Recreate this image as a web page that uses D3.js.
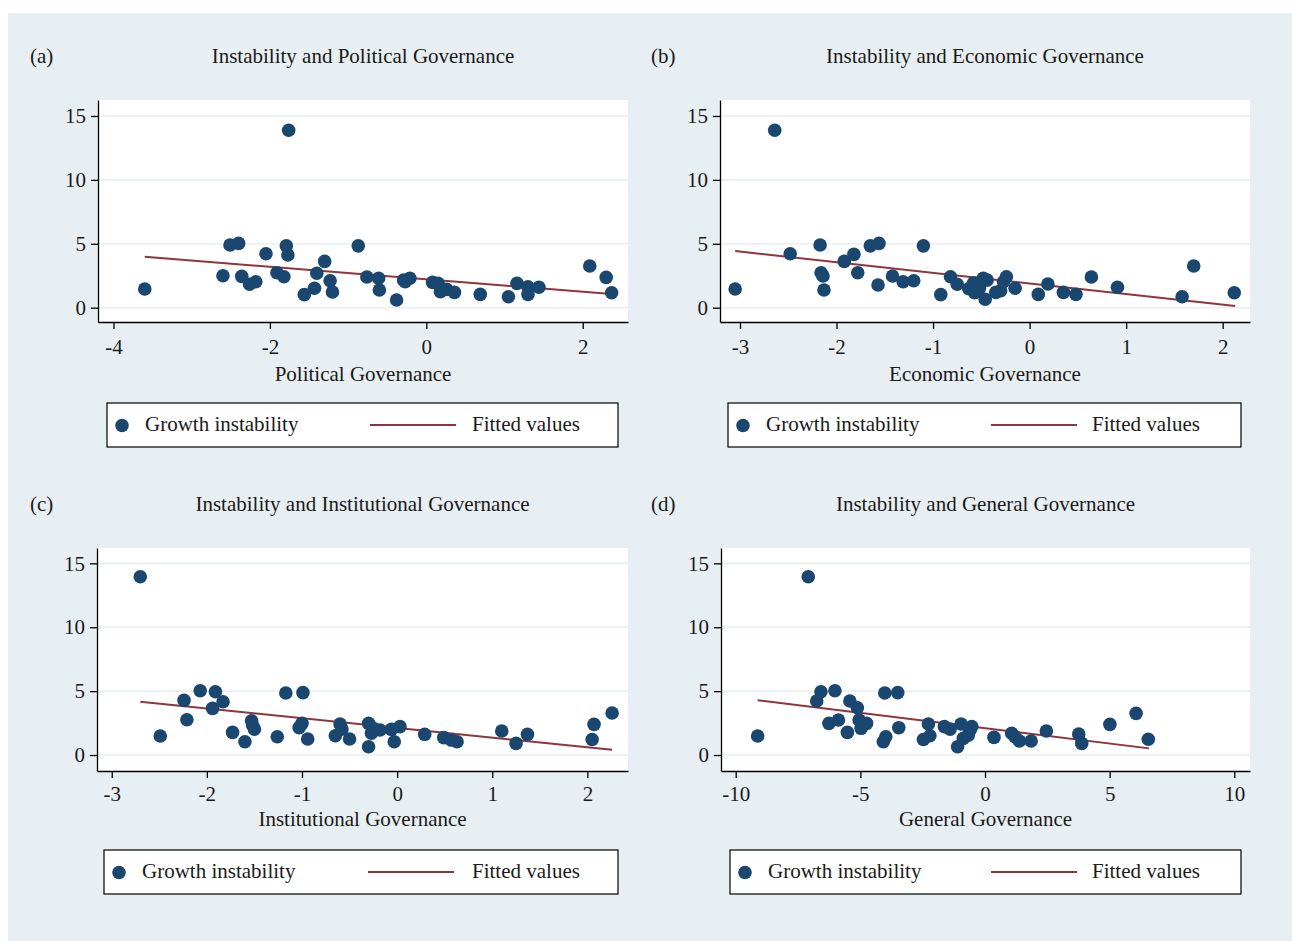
<!DOCTYPE html>
<html>
<head>
<meta charset="utf-8">
<script src="https://cdn.jsdelivr.net/npm/d3@7"></script>
<style>
  html, body { margin: 0; padding: 0; background: #ffffff; }
  svg { display: block; }
  text { font-family: "Liberation Serif", "Times New Roman", serif; fill: #1a1a1a; }
</style>
</head>
<body>
<svg id="chart" width="1292" height="941"></svg>
<script>
// ---------- DATA ----------
const yTicks = [0, 5, 10, 15];
const legendLabels = ["Growth instability", "Fitted values"];

// Panel (a) Political Governance
const polX = [-3.60,-1.76,-2.51,-2.40,-2.60,-2.36,-2.26,-2.18,-2.05,-1.91,-1.82,-1.79,-1.77,-1.56,-1.43,-1.40,-1.30,-1.23,-1.20,-0.87,
              -0.76,-0.61,-0.60,-0.38,-0.29,-0.21,-0.27,0.08,0.15,0.18,0.26,0.36,0.69,1.05,1.16,1.30,1.30,1.44,2.09,2.30,2.37];
const polY = [1.46,13.88,4.90,5.03,2.50,2.45,1.83,2.03,4.22,2.73,2.42,4.84,4.12,1.02,1.52,2.69,3.62,2.11,1.23,4.84,
              2.40,2.30,1.38,0.60,2.16,2.30,2.03,1.98,1.90,1.25,1.43,1.20,1.04,0.86,1.90,1.64,1.04,1.60,3.26,2.37,1.17];
const polFitX = [-3.60, 2.37];
const polFitY = [3.98, 1.07];
const polTicks = [-4, -2, 0, 2];

// Panel (b) Economic Governance
const ecoX = [-3.05,-2.64,-2.48,-2.17,-2.16,-2.14,-2.13,-1.92,-1.82,-1.78,-1.65,-1.56,-1.57,-1.42,-1.31,-1.20,-1.10,-0.92,-0.82,-0.75,
              -0.63,-0.58,-0.57,-0.53,-0.48,-0.46,-0.52,-0.44,-0.35,-0.30,-0.24,-0.27,-0.15,0.09,0.19,0.35,0.48,0.64,0.91,1.58,1.70,2.12];
const ecoY = [1.46,13.88,4.22,4.90,2.73,2.48,1.38,3.62,4.17,2.73,4.84,5.03,1.77,2.48,2.03,2.11,4.84,1.02,2.42,1.83,
              1.48,1.95,1.17,1.77,2.30,0.66,1.52,2.16,1.20,1.33,2.42,2.03,1.52,1.04,1.85,1.20,1.04,2.40,1.60,0.86,3.26,1.17];
const ecoFitX = [-3.05, 2.13];
const ecoFitY = [4.43, 0.13];
const ecoTicks = [-3, -2, -1, 0, 1, 2];

// Panel (c) Institutional Governance
const insX = [-2.70,-2.49,-2.24,-2.21,-2.07,-1.91,-1.94,-1.83,-1.73,-1.60,-1.53,-1.52,-1.50,-1.26,-1.17,-0.99,-1.00,-1.03,-0.94,-0.65,
              -0.60,-0.58,-0.50,-0.30,-0.30,-0.27,-0.25,-0.18,-0.03,0.03,-0.06,0.29,0.49,0.57,0.63,1.10,1.25,1.37,2.05,2.07,2.26];
const insY = [13.95,1.49,4.28,2.76,5.03,4.95,3.65,4.17,1.77,1.04,2.68,2.35,2.03,1.43,4.85,4.88,2.48,2.14,1.25,1.51,
              2.43,2.03,1.25,2.48,0.65,1.70,2.09,1.96,1.04,2.22,2.01,1.62,1.36,1.17,1.04,1.88,0.91,1.62,1.22,2.40,3.29];
const insFitX = [-2.70, 2.26];
const insFitY = [4.17, 0.41];
const insTicks = [-3, -2, -1, 0, 1, 2];

// Panel (d) General Governance
const genX = [-9.12,-7.09,-6.75,-6.58,-6.26,-5.88,-6.02,-5.52,-5.42,-5.12,-5.05,-4.97,-4.75,-4.08,-3.98,-4.02,-3.50,-3.46,-2.47,-2.27,
              -2.21,-1.63,-1.40,-0.96,-1.10,-0.87,-0.67,-0.53,-0.60,0.36,1.07,1.20,1.38,1.85,2.46,3.76,3.88,5.01,6.06,6.55];
const genY = [1.49,13.95,4.23,4.95,2.48,2.74,5.03,1.77,4.23,3.70,2.74,2.09,2.48,1.04,1.43,4.85,4.88,2.14,1.22,2.43,
              1.51,2.22,2.03,2.43,0.65,1.30,1.56,2.22,1.96,1.38,1.70,1.43,1.10,1.10,1.88,1.64,0.91,2.40,3.26,1.23];
const genFitX = [-9.12, 6.58];
const genFitY = [4.28, 0.52];
const genTicks = [-10, -5, 0, 5, 10];

// ---------- LAYOUT ----------
const C = { bg: "#e8eff2", grid: "#e8eff2", dot: "#1a476f", fit: "#90353b" };
const panels = [
  { tag: "(a)", title: "Instability and Political Governance", xlab: "Political Governance",
    xs: polX, ys: polY, fx: polFitX, fy: polFitY, ticks: polTicks,
    left: 98, right: 628, top: 100, bottom: 322, xd: [-4.198, 2.579], yd: [-1.12, 16.25],
    tagX: 30, legX: 107, legW: 511, legDy: 81, labDy: 59, tpad: 10, lineX: 263, fitTx: 365 },
  { tag: "(b)", title: "Instability and Economic Governance", xlab: "Economic Governance",
    xs: ecoX, ys: ecoY, fx: ecoFitX, fy: ecoFitY, ticks: ecoTicks,
    left: 720, right: 1250, top: 100, bottom: 322, xd: [-3.207, 2.283], yd: [-1.12, 16.25],
    tagX: 651, legX: 728, legW: 513, legDy: 81, labDy: 59, tpad: 10, lineX: 263, fitTx: 364 },
  { tag: "(c)", title: "Instability and Institutional Governance", xlab: "Institutional Governance",
    xs: insX, ys: insY, fx: insFitX, fy: insFitY, ticks: insTicks,
    left: 97, right: 628, top: 548, bottom: 771, xd: [-3.155, 2.427], yd: [-1.25, 16.2],
    tagX: 30, legX: 104, legW: 514, legDy: 79, labDy: 55, tpad: 8, lineX: 264, fitTx: 368 },
  { tag: "(d)", title: "Instability and General Governance", xlab: "General Governance",
    xs: genX, ys: genY, fx: genFitX, fy: genFitY, ticks: genTicks,
    left: 721, right: 1250, top: 548, bottom: 771, xd: [-10.59, 10.63], yd: [-1.25, 16.2],
    tagX: 651, legX: 730, legW: 511, legDy: 79, labDy: 55, tpad: 8, lineX: 261, fitTx: 362 }
];

const svg = d3.select("#chart");
svg.append("rect").attr("x", 8).attr("y", 13).attr("width", 1284).attr("height", 928).attr("fill", C.bg);

const FS = 21;

panels.forEach(p => {
  const x = d3.scaleLinear().domain(p.xd).range([p.left, p.right]);
  const y = d3.scaleLinear().domain(p.yd).range([p.bottom, p.top]);
  const g = svg.append("g");

  // plot region
  g.append("rect").attr("x", p.left).attr("y", p.top)
    .attr("width", p.right - p.left).attr("height", p.bottom - p.top).attr("fill", "#ffffff");

  // gridlines
  g.selectAll(".grid").data(yTicks).enter().append("line")
    .attr("x1", p.left).attr("x2", p.right)
    .attr("y1", d => y(d)).attr("y2", d => y(d))
    .attr("stroke", C.grid).attr("stroke-width", 1.6);

  // titles
  g.append("text").attr("x", p.tagX).attr("y", p.top - 37).attr("font-size", FS).text(p.tag);
  g.append("text").attr("x", (p.left + p.right) / 2).attr("y", p.top - 37)
    .attr("text-anchor", "middle").attr("font-size", FS).text(p.title);

  // axes
  const ya = g.append("g").attr("transform", `translate(${p.left},0)`)
    .call(d3.axisLeft(y).tickValues(yTicks).tickSize(7).tickSizeOuter(0).tickPadding(5));
  const xa = g.append("g").attr("transform", `translate(0,${p.bottom})`)
    .call(d3.axisBottom(x).tickValues(p.ticks).tickSize(7).tickSizeOuter(0).tickPadding(p.tpad)
      .tickFormat(d => d < 0 ? "-" + Math.abs(d) : String(d)));
  [ya, xa].forEach(a => {
    a.selectAll("path.domain").attr("stroke", "#000").attr("stroke-width", 1.3);
    a.selectAll(".tick line").attr("stroke", "#000").attr("stroke-width", 1.3);
    a.selectAll(".tick text").attr("font-size", FS).attr("font-family", "Liberation Serif, serif").attr("fill", "#1a1a1a");
  });

  g.append("text").attr("x", (p.left + p.right) / 2).attr("y", p.bottom + p.labDy)
    .attr("text-anchor", "middle").attr("font-size", FS).text(p.xlab);

  // fitted line
  const fitPts = p.fx.map((v, i) => [v, p.fy[i]]);
  g.append("path").datum(fitPts)
    .attr("d", d3.line().x(d => x(d[0])).y(d => y(d[1])))
    .attr("fill", "none").attr("stroke", C.fit).attr("stroke-width", 2);

  // points
  const pts = p.xs.map((v, i) => [v, p.ys[i]]);
  g.selectAll(".pt").data(pts).enter().append("circle")
    .attr("cx", d => x(d[0])).attr("cy", d => y(d[1])).attr("r", 6.8).attr("fill", C.dot);

  // legend
  const ly = p.bottom + p.legDy, lh = 44;
  const lg = g.append("g").attr("transform", `translate(${p.legX},${ly})`);
  lg.append("rect").attr("width", p.legW).attr("height", lh).attr("fill", "#fff")
    .attr("stroke", "#000").attr("stroke-width", 1.2);
  lg.append("circle").attr("cx", 15).attr("cy", lh / 2 + 0.5).attr("r", 6.8).attr("fill", C.dot);
  lg.append("text").attr("x", 38).attr("y", lh / 2 + 6).attr("font-size", FS).text(legendLabels[0]);
  lg.append("line").attr("x1", p.lineX).attr("x2", p.lineX + 86).attr("y1", lh / 2).attr("y2", lh / 2)
    .attr("stroke", C.fit).attr("stroke-width", 2);
  lg.append("text").attr("x", p.fitTx).attr("y", lh / 2 + 6).attr("font-size", FS).text(legendLabels[1]);
});
</script>
</body>
</html>
